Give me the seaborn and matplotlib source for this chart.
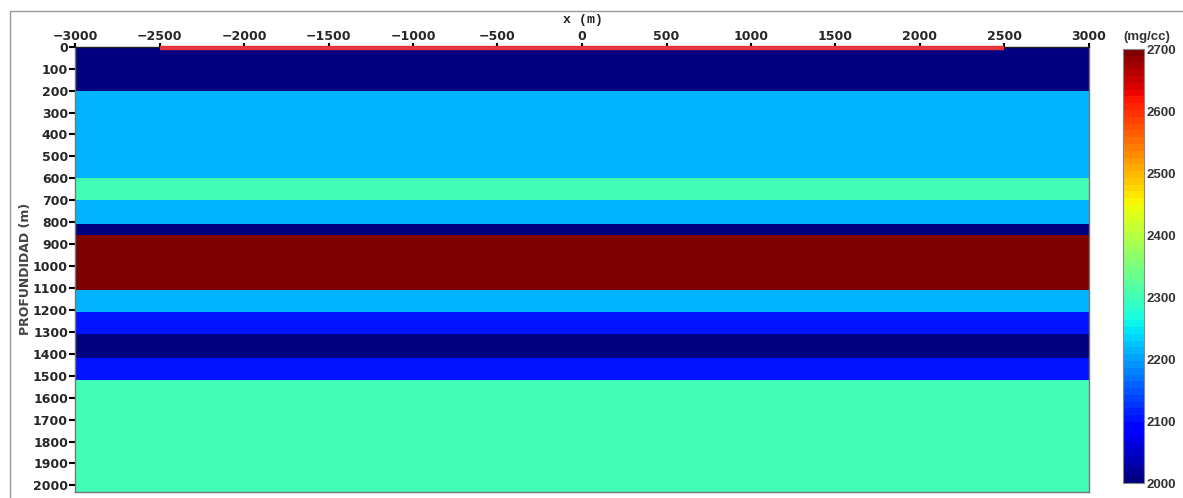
import numpy as np
import pandas as pd
import matplotlib
matplotlib.use("Agg")
import matplotlib.pyplot as plt
from matplotlib.patches import Rectangle
from matplotlib.font_manager import FontProperties
import seaborn as sns

# ---- data ----
layer_tops = [0, 200, 600, 700, 810, 860, 1110, 1210, 1310, 1420, 1520]
layer_density = [2000, 2210, 2300, 2210, 2000, 2700, 2210, 2100, 2000, 2100, 2300]
model_bottom = 2030
x_min, x_max = -3000, 3000
x_ticks = [-3000, -2500, -2000, -1500, -1000, -500, 0, 500, 1000, 1500, 2000, 2500, 3000]
depth_ticks = list(range(0, 2001, 100))
cbar_ticks = [2000, 2100, 2200, 2300, 2400, 2500, 2600, 2700]
survey_x = [-2500, 2500]
top_station_ticks = [-2340, -1560, -780, 0, 780, 1560, 2340]
bottom_station_ticks = [-2380, -1650, -925, -200, 715, 1415, 2110]

# ---- grid ----
DZ, DX = 10, 100
z_centers = np.arange(DZ / 2, model_bottom, DZ)
x_centers = np.arange(x_min + DX / 2, x_max, DX)
idx = np.searchsorted(layer_tops, z_centers, side="right") - 1
col = np.array(layer_density, dtype=float)[idx]
grid = pd.DataFrame(np.repeat(col[:, None], len(x_centers), axis=1),
                    index=z_centers, columns=x_centers)

def xp(v):
    return (np.asarray(v, dtype=float) - x_min) / DX

def zp(v):
    return np.asarray(v, dtype=float) / DZ

sns.set_style("white")
plt.rcParams["font.family"] = ["DejaVu Sans"]

W, H = 1183, 498
fig = plt.figure(figsize=(W / 100, H / 100), dpi=100)
ax = fig.add_axes([75 / W, 1 - 492 / H, 1014 / W, (492 - 46.7) / H])
cax = fig.add_axes([1123 / W, 1 - 483 / H, 21 / W, (483 - 49) / H])

cmap = plt.get_cmap("jet", 64)
sns.heatmap(grid, ax=ax, cbar_ax=cax, cmap=cmap, vmin=2000, vmax=2700,
            xticklabels=False, yticklabels=False, rasterized=True)

for s in ax.spines.values():
    s.set_visible(True)
    s.set_color("#777777")
    s.set_linewidth(1.0)
ax.spines["top"].set_color("#222222")

# x axis on top
ax.xaxis.tick_top()
ax.set_xticks(xp(x_ticks))
ax.set_xticklabels([f"{v}".replace("-", "\u2212") for v in x_ticks],
                   fontsize=9, fontweight="bold")
ax.tick_params(axis="x", which="major", top=True, bottom=False, direction="out",
               length=3, width=1.5, color="black", pad=0)
ax.set_xticks(xp(top_station_ticks), minor=True)
ax.tick_params(axis="x", which="minor", top=True, bottom=False, direction="in",
               length=4, width=0.8, color="#444444")
fig.text(583 / W, 1 - 20 / H, "x (m)", family="Liberation Mono", fontweight="bold",
         fontsize=9.5, ha="center", va="center")

sec = ax.secondary_xaxis("bottom")
sec.set_xticks(xp(bottom_station_ticks))
sec.tick_params(direction="in", length=7, width=0.8, color="#555555",
                labelbottom=False)
sec.spines["bottom"].set_visible(False)

# y axis
ax.set_yticks(zp(depth_ticks))
ax.set_yticklabels([str(v) for v in depth_ticks], fontsize=9, fontweight="bold",
                   rotation=0)
ax.tick_params(axis="y", left=True, direction="out", length=4, width=1.5,
               color="black", pad=1)
ax.set_ylabel("PROFUNDIDAD (m)", fontsize=9, fontweight="bold", color="#444444",
              labelpad=1)

# survey line
ax.plot(xp(survey_x), zp([5, 5]), color="#e8333d", lw=3.2, clip_on=False,
        solid_capstyle="butt", zorder=5)

# colorbar
fp = FontProperties(family="Liberation Sans", weight="bold", size=9.5)
cbar = ax.collections[0].colorbar
cax.set_yticks(cbar_ticks)
cax.set_yticklabels([str(v) for v in cbar_ticks], fontproperties=fp,
                    color="#333333")
cax.tick_params(direction="in", length=3, width=0.8, color="#333333", pad=2)
cbar.outline.set_edgecolor("#888888")
cbar.outline.set_linewidth(0.8)
fig.text(1147 / W, 1 - 37 / H, "(mg/cc)", fontproperties=fp, color="#333333",
         ha="center", va="center")
fig.text(1187 / W, 1 - 232 / H, "DENSIDAD", rotation=270, fontsize=9,
         fontweight="bold", color="#333333", ha="center", va="center")

# figure frame
fig.add_artist(Rectangle((10 / W, -0.5), 2.0, 0.5 + (1 - 11 / H),
                         transform=fig.transFigure, fill=False,
                         edgecolor="#999999", lw=1.0))

fig.savefig("out.png", dpi=100)
